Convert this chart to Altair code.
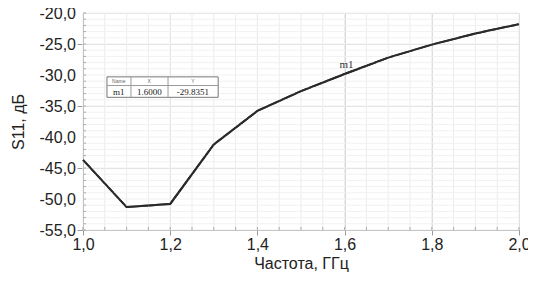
import altair as alt
import pandas as pd

freq = [1.0, 1.1, 1.2, 1.3, 1.4, 1.5, 1.6, 1.7, 1.8, 1.9, 2.0]
s11 = [-43.7, -51.3, -50.8, -41.2, -35.8, -32.6, -29.8351, -27.2, -25.1, -23.3, -21.8]

x_ticks = [1.0, 1.2, 1.4, 1.6, 1.8, 2.0]
y_ticks = [-55, -50, -45, -40, -35, -30, -25, -20]
y_tick_labels = ["-55,0", "-50,0", "-45,0", "-40,0", "-35,0", "-30,0", "-25,0", "-20,0"]
x_minor = [round(1.0 + 0.05 * i, 2) for i in range(21)]
y_minor = list(range(-55, -19))

marker_name = "m1"
marker_x = 1.6
marker_y = -29.8351

W, H = 436, 217
font = "Liberation Sans"

df = pd.DataFrame({"f": freq, "s": s11})
xs = alt.Scale(domain=[1.0, 2.0], nice=False, zero=False)
ys = alt.Scale(domain=[-55, -20], nice=False, zero=False)

x_axis = alt.Axis(
    values=x_ticks,
    labelExpr="replace(format(datum.value,'.1f'),'.',',')",
    labelOverlap=False, labelFlush=False,
    title="Частота, ГГц", titleFont=font, titleFontSize=16, titleFontWeight="normal",
    titleColor="#222", titlePadding=3,
    labelFont=font, labelFontSize=16, labelColor="#222", labelPadding=1,
    gridColor="#d6d6d6", tickColor="#999", tickSize=5, domainColor="#999",
)
y_axis = alt.Axis(
    values=y_ticks, labels=False,
    title="S11, дБ", titleFont=font, titleFontSize=16, titleFontWeight="normal",
    titleColor="#222", titlePadding=50,
    gridColor="#d6d6d6", tickColor="#999", tickSize=6, domainColor="#999",
)

line = alt.Chart(df).mark_line(color="#2a2a2a", strokeWidth=2).encode(
    x=alt.X("f:Q", scale=xs, axis=x_axis),
    y=alt.Y("s:Q", scale=ys, axis=y_axis),
)

ylab = alt.Chart(pd.DataFrame({"s": y_ticks, "t": y_tick_labels})).mark_text(
    font=font, fontSize=16, color="#222", align="right", baseline="middle", dy=1
).encode(y=alt.Y("s:Q", scale=ys), x=alt.value(-7), text="t:N")

# fine background grid
xg = alt.Chart(pd.DataFrame({"f": x_minor})).mark_rule(color="#ececec", strokeWidth=1).encode(
    x=alt.X("f:Q", scale=xs)
)
yg = alt.Chart(pd.DataFrame({"s": y_minor})).mark_rule(color="#f1f1f1", strokeWidth=1).encode(
    y=alt.Y("s:Q", scale=ys)
)

xm = alt.Chart(pd.DataFrame({"f": x_minor})).mark_rule(color="#aaa", strokeWidth=1).encode(
    x=alt.X("f:Q", scale=xs), y=alt.value(H), y2=alt.value(H - 3)
)
ym = alt.Chart(pd.DataFrame({"s": y_minor})).mark_rule(color="#aaa", strokeWidth=1).encode(
    y=alt.Y("s:Q", scale=ys), x=alt.value(0), x2=alt.value(3)
)

mlabel = alt.Chart(pd.DataFrame({"f": [marker_x], "s": [marker_y], "t": [marker_name]})).mark_text(
    font="Liberation Serif", fontSize=11, color="#333", dy=-9, dx=2, align="center"
).encode(x=alt.X("f:Q", scale=xs), y=alt.Y("s:Q", scale=ys), text="t:N")

# marker table box
tbl_x0, tbl_x1 = 1.055, 1.31
tbl_y0, tbl_y1 = -33.6, -30.3
box = alt.Chart(pd.DataFrame({"x": [tbl_x0], "x2": [tbl_x1], "y": [tbl_y0], "y2": [tbl_y1]})).mark_rect(
    fill="white", stroke="#777", strokeWidth=1
).encode(x=alt.X("x:Q", scale=xs), x2="x2:Q", y=alt.Y("y:Q", scale=ys), y2="y2:Q")
div = alt.Chart(pd.DataFrame({"x": [tbl_x0], "x2": [tbl_x1], "y": [-31.7]})).mark_rule(
    color="#999", strokeWidth=1
).encode(x=alt.X("x:Q", scale=xs), x2="x2:Q", y=alt.Y("y:Q", scale=ys))
vdiv = alt.Chart(pd.DataFrame({"x": [1.11, 1.195], "y": [tbl_y0, tbl_y0], "y2": [tbl_y1, tbl_y1]})).mark_rule(
    color="#999", strokeWidth=1
).encode(x=alt.X("x:Q", scale=xs), y=alt.Y("y:Q", scale=ys), y2="y2:Q")
hdr = alt.Chart(pd.DataFrame({"x": [1.082, 1.152, 1.252], "y": [-31.0] * 3, "t": ["Name", "X", "Y"]})).mark_text(
    font=font, fontSize=5, color="#666"
).encode(x=alt.X("x:Q", scale=xs), y=alt.Y("y:Q", scale=ys), text="t:N")
row = alt.Chart(pd.DataFrame({"x": [1.082, 1.152, 1.252], "y": [-32.7] * 3,
                              "t": [marker_name, f"{marker_x:.4f}", f"{marker_y:.4f}"]})).mark_text(
    font="Liberation Serif", fontSize=9, color="#222"
).encode(x=alt.X("x:Q", scale=xs), y=alt.Y("y:Q", scale=ys), text="t:N")

chart = alt.layer(line, xg, yg, xm, ym, box, div, vdiv, hdr, row, mlabel, ylab, line).properties(
    width=W, height=H,
    autosize=alt.AutoSizeParams(type="none"),
    padding={"left": 75, "top": 5, "right": 9, "bottom": 50},
).configure_view(stroke="#999", strokeWidth=1.5).configure_axis(
    labelOverlap=False, labelFlush=False
).configure(background="white")

chart.save("out.html", embed_options={"renderer": "svg", "actions": False})
